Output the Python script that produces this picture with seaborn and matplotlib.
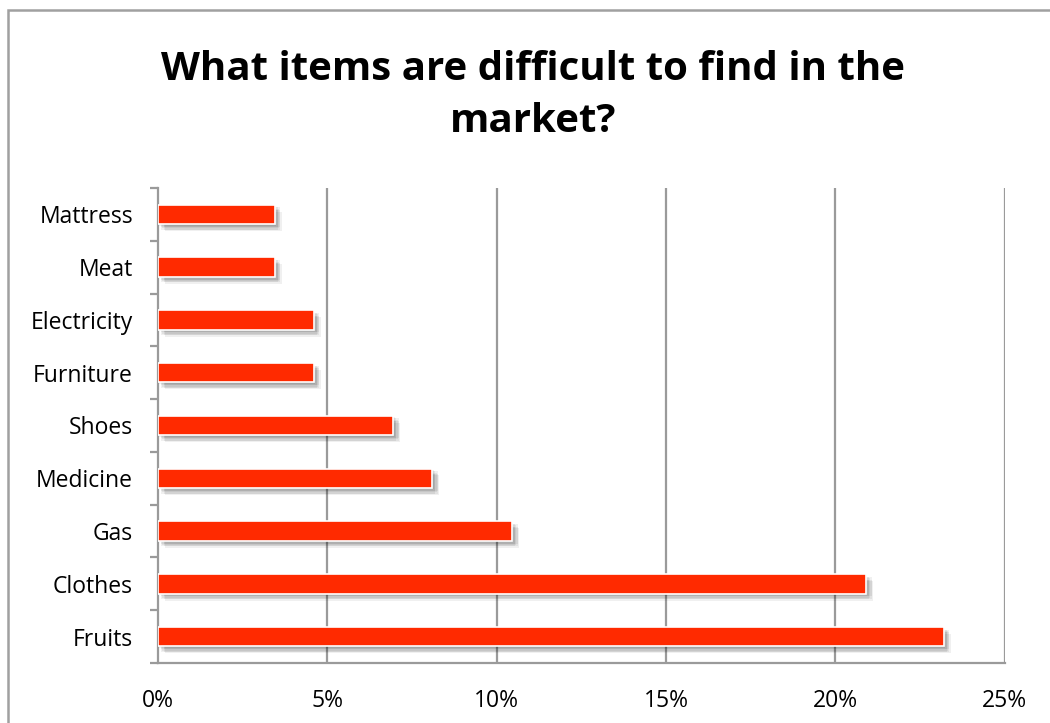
import matplotlib
matplotlib.use("Agg")
import matplotlib.pyplot as plt
import matplotlib.patheffects as pe
from matplotlib.patches import Rectangle
from matplotlib.ticker import FixedLocator
import seaborn as sns
import pandas as pd

items = ["Mattress", "Meat", "Electricity", "Furniture", "Shoes",
         "Medicine", "Gas", "Clothes", "Fruits"]
shares = [3.45, 3.45, 4.6, 4.6, 6.95, 8.1, 10.45, 20.9, 23.2]
x_ticks = [0, 5, 10, 15, 20, 25]
x_tick_labels = ["0%", "5%", "10%", "15%", "20%", "25%"]
title_text = "What items are difficult to find in the\nmarket?"

sns.set_style("white")
plt.rcParams["font.family"] = ["Open Sans", "DejaVu Sans"]
plt.rcParams["text.color"] = "black"
plt.rcParams["xtick.labelcolor"] = "black"
plt.rcParams["ytick.labelcolor"] = "black"

df = pd.DataFrame({"item": items, "share": shares})

fig = plt.figure(figsize=(10.5, 7.23), dpi=100)
ax = fig.add_axes([0.1505, 0.083, 0.8065, 0.657])

grid_col = "#9a9a9a"
for t in x_ticks[1:]:
    ax.axvline(t, color=grid_col, lw=1.6, zorder=0)

sns.barplot(data=df, x="share", y="item", orient="h", order=items,
            color="#ff2a00", saturation=1, width=0.37, ax=ax, zorder=3)

# soft drop shadow built from several faint offset copies
shadow_layers = [
    pe.SimplePatchShadow(offset=(dx, dy), shadow_rgbFace="#000000", alpha=0.06)
    for dx, dy in [(1, -1), (2, -2), (3, -3), (4, -4), (2, -4), (4, -2), (5, -5)]
]
for bar in ax.patches:
    bar.set_edgecolor("white")
    bar.set_linewidth(1.2)
    bar.set_path_effects(shadow_layers + [pe.Normal()])

ax.set_xlim(0, 25)
ax.set_ylim(len(items) - 0.5, -0.5)
ax.set_xticks(x_ticks)
ax.set_xticklabels(x_tick_labels, fontsize=16.5)
ax.set_xlabel("")
ax.set_ylabel("")
ax.tick_params(axis="y", labelsize=16.5, length=0, pad=18)
ax.tick_params(axis="x", length=8, width=1.6, color=grid_col, direction="out", pad=11)
ax.yaxis.set_minor_locator(FixedLocator([i - 0.5 for i in range(len(items) + 1)]))
ax.tick_params(axis="y", which="minor", length=6, width=1.6, color=grid_col, left=True)

for side in ["top", "right"]:
    ax.spines[side].set_visible(False)
for side in ["left", "bottom"]:
    ax.spines[side].set_color(grid_col)
    ax.spines[side].set_linewidth(1.6)

fig.text(0.508, 0.868, title_text, ha="center", va="center", color="black",
         fontsize=29, fontweight="bold", linespacing=1.45)

frame = Rectangle((8 / 1050, -0.05), 1.2, 1 - 10 / 723 + 0.05,
                  transform=fig.transFigure, fill=False,
                  edgecolor="#a0a0a0", lw=1.8)
fig.add_artist(frame)

fig.savefig("out.png", dpi=100)
